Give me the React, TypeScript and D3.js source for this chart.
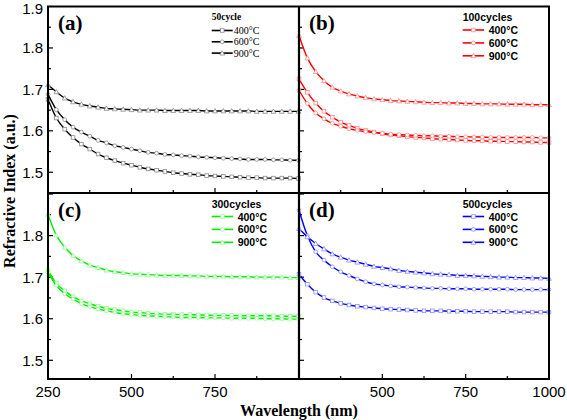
import React from "react";
import * as d3 from "d3";

const WAVELENGTHS = [250,275,300,325,350,375,400,425,450,475,500,525,550,575,600,625,650,675,700,725,750,775,800,825,850,875,900,925,950,975,1000];

const a400 = [1.676,1.631,1.604,1.584,1.568,1.556,1.544,1.535,1.528,1.522,1.517,1.512,1.508,1.505,1.502,1.499,1.497,1.495,1.494,1.492,1.491,1.490,1.489,1.488,1.487,1.487,1.486,1.486,1.486,1.486,1.485];
const a600 = [1.688,1.651,1.627,1.609,1.597,1.587,1.577,1.571,1.564,1.560,1.556,1.552,1.548,1.546,1.543,1.542,1.540,1.539,1.537,1.536,1.535,1.534,1.533,1.532,1.531,1.531,1.531,1.530,1.530,1.529,1.529];
const a900 = [1.711,1.694,1.679,1.670,1.664,1.660,1.657,1.654,1.653,1.652,1.651,1.650,1.650,1.650,1.649,1.649,1.649,1.649,1.649,1.648,1.648,1.648,1.648,1.648,1.648,1.647,1.647,1.647,1.647,1.647,1.647];

const b400 = [1.725,1.693,1.667,1.647,1.633,1.621,1.613,1.606,1.601,1.597,1.593,1.590,1.588,1.586,1.584,1.583,1.581,1.580,1.579,1.578,1.577,1.576,1.576,1.575,1.575,1.574,1.574,1.573,1.573,1.572,1.572];
const b600 = [1.698,1.666,1.643,1.629,1.618,1.611,1.605,1.601,1.598,1.596,1.594,1.592,1.591,1.590,1.589,1.588,1.588,1.587,1.587,1.586,1.586,1.585,1.585,1.584,1.584,1.584,1.584,1.584,1.584,1.583,1.583];
const b900 = [1.830,1.776,1.743,1.721,1.705,1.696,1.689,1.684,1.680,1.677,1.675,1.673,1.672,1.671,1.670,1.669,1.668,1.668,1.667,1.667,1.666,1.666,1.665,1.665,1.665,1.664,1.664,1.664,1.663,1.663,1.663];

const c400 = [1.717,1.685,1.667,1.653,1.643,1.636,1.630,1.625,1.622,1.619,1.616,1.615,1.613,1.612,1.611,1.611,1.610,1.610,1.609,1.609,1.608,1.608,1.608,1.607,1.607,1.607,1.607,1.607,1.606,1.606,1.606];
const c600 = [1.711,1.680,1.660,1.647,1.636,1.629,1.623,1.619,1.615,1.612,1.610,1.608,1.607,1.606,1.605,1.604,1.603,1.603,1.603,1.602,1.602,1.602,1.601,1.601,1.601,1.601,1.600,1.600,1.600,1.599,1.599];
const c900 = [1.851,1.801,1.772,1.752,1.739,1.729,1.723,1.717,1.713,1.711,1.708,1.707,1.706,1.705,1.704,1.704,1.704,1.703,1.703,1.702,1.702,1.702,1.701,1.701,1.701,1.700,1.700,1.700,1.700,1.699,1.699];

const d400 = [1.707,1.683,1.664,1.651,1.643,1.637,1.633,1.630,1.628,1.626,1.624,1.623,1.622,1.621,1.620,1.619,1.619,1.619,1.618,1.618,1.618,1.617,1.617,1.617,1.617,1.617,1.616,1.616,1.616,1.616,1.616];
const d600 = [1.861,1.800,1.761,1.741,1.725,1.713,1.704,1.696,1.689,1.684,1.681,1.679,1.677,1.676,1.675,1.674,1.673,1.673,1.672,1.672,1.672,1.671,1.671,1.671,1.671,1.671,1.670,1.670,1.670,1.670,1.670];
const d900 = [1.817,1.797,1.781,1.768,1.756,1.748,1.741,1.736,1.731,1.726,1.723,1.720,1.716,1.714,1.712,1.710,1.708,1.707,1.706,1.704,1.704,1.703,1.702,1.701,1.700,1.700,1.699,1.699,1.698,1.698,1.697];

const TEMPS = ["400°C", "600°C", "900°C"];
const MARKERS = ["square", "circle", "triangle"];
const X_MAJOR = [250, 500, 750, 1000];
const X_MINOR = [375, 625, 875];
const Y_MAJOR = [1.5, 1.6, 1.7, 1.8, 1.9];
const Y_MINOR = [1.55, 1.65, 1.75, 1.85];
const X_LABELS_LEFT = [250, 500, 750];
const X_LABELS_RIGHT = [500, 750, 1000];
const Y_LABELS_TOP = [1.5, 1.6, 1.7, 1.8, 1.9];
const Y_LABELS_BOTTOM = [1.5, 1.6, 1.7, 1.8];

const PANELS = [
  { tag: "(a)", col: 0, row: 0, title: "50cycle", line: "#000000", mark: "#8a8a8a", series: [a400, a600, a900], serifLegend: true },
  { tag: "(b)", col: 1, row: 0, title: "100cycles", line: "#ff0000", mark: "#ff8a8a", series: [b400, b600, b900], serifLegend: false },
  { tag: "(c)", col: 0, row: 1, title: "300cycles", line: "#00ee00", mark: "#8cff8c", series: [c400, c600, c900], serifLegend: false },
  { tag: "(d)", col: 1, row: 1, title: "500cycles", line: "#0000ff", mark: "#8c8cff", series: [d400, d600, d900], serifLegend: false },
];

const SANS = "'Liberation Sans', Arial, sans-serif";
const SERIF = "'Liberation Serif', 'Times New Roman', serif";

const xScales = [
  d3.scaleLinear().domain([250, 1000]).range([48, 298.5]),
  d3.scaleLinear().domain([250, 1000]).range([299, 549]),
];
const yScales = [
  d3.scaleLinear().domain([1.45, 1.9]).range([193, 6.5]),
  d3.scaleLinear().domain([1.455, 1.9025]).range([379, 193]),
];

function Marker({ kind, x, y, stroke }: { kind: string; x: number; y: number; stroke: string }) {
  if (kind === "square") {
    return <rect x={x - 1.8} y={y - 1.8} width={3.6} height={3.6} fill="#fff" stroke={stroke} strokeWidth={0.8} />;
  }
  if (kind === "circle") {
    return <circle cx={x} cy={y} r={1.9} fill="#fff" stroke={stroke} strokeWidth={0.8} />;
  }
  const s = 2.4;
  return (
    <path
      d={`M${x},${y - s}L${x + s},${y + s * 0.8}L${x - s},${y + s * 0.8}Z`}
      fill="#fff"
      stroke={stroke}
      strokeWidth={0.8}
    />
  );
}

function Panel({ p }: { p: (typeof PANELS)[number] }) {
  const x = xScales[p.col];
  const y = yScales[p.row];
  const [x0] = x.range();
  const [y1, y0] = y.range();
  const line = d3
    .line<number>()
    .x((_, i) => x(WAVELENGTHS[i]))
    .y((v) => y(v))
    .curve(d3.curveMonotoneX);
  const lx = x0 + 163.7;
  const ly = y0 + 14.5;
  return (
    <g>
      {X_MAJOR.filter((t) => t > 250 && t < 1000).map((t) => (
        <line key={"xM" + t} x1={x(t)} x2={x(t)} y1={y1} y2={y1 - 5} stroke="#000" strokeWidth={1.2} />
      ))}
      {X_MINOR.map((t) => (
        <line key={"xm" + t} x1={x(t)} x2={x(t)} y1={y1} y2={y1 - 3} stroke="#000" strokeWidth={1.2} />
      ))}
      {Y_MAJOR.filter((t) => y(t) > y0 + 1 && y(t) < y1 - 1).map((t) => (
        <line key={"yM" + t} x1={x0} x2={x0 + 5} y1={y(t)} y2={y(t)} stroke="#000" strokeWidth={1.2} />
      ))}
      {Y_MINOR.map((t) => (
        <line key={"ym" + t} x1={x0} x2={x0 + 3} y1={y(t)} y2={y(t)} stroke="#000" strokeWidth={1.2} />
      ))}
      {p.series.map((s, si) => (
        <g key={si}>
          <path d={line(s) || ""} fill="none" stroke={p.line} strokeWidth={1.4} />
          {s.map((v, i) => (
            <Marker key={i} kind={MARKERS[si]} x={x(WAVELENGTHS[i])} y={y(v)} stroke={p.mark} />
          ))}
        </g>
      ))}
      <text x={x0 + 10} y={y0 + 23.5} fontFamily={SERIF} fontWeight="bold" fontSize={21} fill="#000">
        {p.tag}
      </text>
      <text
        x={lx}
        y={ly - 4}
        fontFamily={p.serifLegend ? SERIF : SANS}
        fontWeight="bold"
        fontSize={p.serifLegend ? 9.5 : 10.5}
        fill="#000"
        dominantBaseline="central"
      >
        {p.title}
      </text>
      {TEMPS.map((t, i) => {
        const ry = p.serifLegend ? ly + 9.5 + i * 11.3 : ly + 9 + i * 12.9;
        const len = p.serifLegend ? 21 : 21.5;
        return (
          <g key={t}>
            <line x1={lx} x2={lx + len} y1={ry} y2={ry} stroke={p.line} strokeWidth={1.6} />
            <Marker kind={MARKERS[i]} x={lx + len / 2} y={ry} stroke={p.mark} />
            <text
              x={lx + len + (p.serifLegend ? 1 : 4.5)}
              y={ry}
              fontFamily={p.serifLegend ? SERIF : SANS}
              fontWeight={p.serifLegend ? "normal" : "bold"}
              fontSize={p.serifLegend ? 10 : 10.5}
              fill="#000"
              dominantBaseline="central"
            >
              {t}
            </text>
          </g>
        );
      })}
    </g>
  );
}

export default function App() {
  const yTop = yScales[0];
  const yBot = yScales[1];
  const xL = xScales[0];
  const xR = xScales[1];
  return (
    <svg
      width={567}
      height={420}
      viewBox="0 0 567 420"
      style={{ position: "absolute", left: 0, top: 0, background: "#fff" }}
    >
      <rect x={0} y={0} width={567} height={420} fill="#fff" />
      {PANELS.map((p) => (
        <Panel key={p.tag} p={p} />
      ))}
      <rect x={48} y={6.5} width={501} height={372.5} fill="none" stroke="#000" strokeWidth={2} />
      <line x1={299} x2={299} y1={6.5} y2={379} stroke="#000" strokeWidth={2.2} />
      <line x1={48} x2={549} y1={193} y2={193} stroke="#000" strokeWidth={2} />
      {Y_LABELS_TOP.map((t) => (
        <text key={"yt" + t} x={43} y={Math.max(yTop(t), 8)} textAnchor="end" dominantBaseline="central" fontFamily={SANS} fontSize={15} fill="#000">
          {t.toFixed(1)}
        </text>
      ))}
      {Y_LABELS_BOTTOM.map((t) => (
        <text key={"yb" + t} x={43} y={yBot(t)} textAnchor="end" dominantBaseline="central" fontFamily={SANS} fontSize={15} fill="#000">
          {t.toFixed(1)}
        </text>
      ))}
      {X_LABELS_LEFT.map((t) => (
        <text key={"xl" + t} x={xL(t)} y={396.5} textAnchor="middle" fontFamily={SANS} fontSize={15} fill="#000">
          {t}
        </text>
      ))}
      {X_LABELS_RIGHT.map((t) => (
        <text key={"xr" + t} x={xR(t)} y={396.5} textAnchor="middle" fontFamily={SANS} fontSize={15} fill="#000">
          {t}
        </text>
      ))}
      <text x={299} y={415.5} textAnchor="middle" fontFamily={SERIF} fontWeight="bold" fontSize={16} fill="#000">
        Wavelength (nm)
      </text>
      <text
        transform="translate(15,191) rotate(-90)"
        textAnchor="middle"
        fontFamily={SERIF}
        fontWeight="bold"
        fontSize={16}
        fill="#000"
      >
        Refractive Index (a.u.)
      </text>
    </svg>
  );
}
